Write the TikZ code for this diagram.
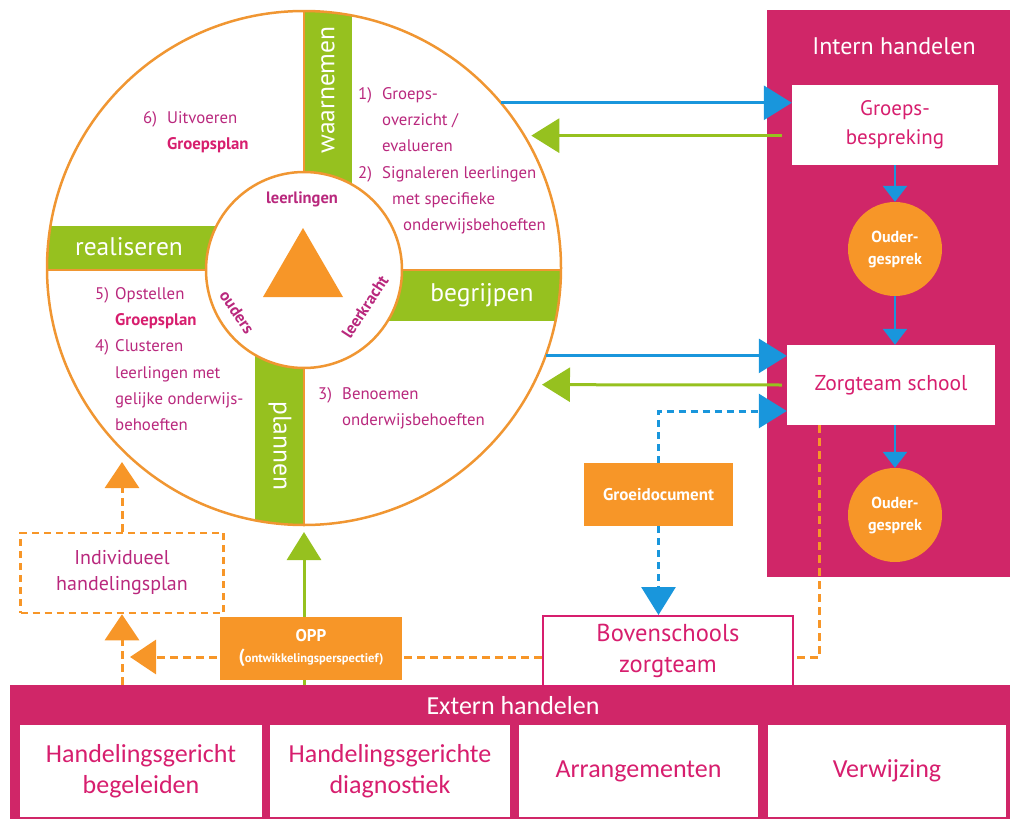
\documentclass[tikz,border=0pt]{standalone}
\usepackage{fontspec}
\setmainfont{PT Sans}
\newfontfamily\calibfont{Carlito}
\usetikzlibrary{arrows.meta,positioning,calc}

\definecolor{wheelorange}{RGB}{240,150,50}
\definecolor{fillorange}{RGB}{247,150,40}
\definecolor{leafgreen}{RGB}{150,193,31}
\definecolor{panelmag}{RGB}{208,38,104}
\definecolor{textmag}{RGB}{185,40,125}
\definecolor{boxmag}{RGB}{215,30,110}
\definecolor{arrowblue}{RGB}{25,150,220}

\newcommand{\stepnum}[2][24pt]{\makebox[#1][l]{#2}}

\tikzset{
  wheeltext/.style={text=textmag, font=\fontsize{16.8}{26.3}\selectfont, align=left, anchor=north west, inner sep=0pt},
  barlabel/.style={text=white, font=\fontsize{25.5}{28}\selectfont, inner sep=0pt},
  hublabel/.style={text=textmag, font=\bfseries\fontsize{16.5}{18}\selectfont, inner sep=0pt},
  bluearrow/.style={draw=arrowblue, line width=3pt, -{Triangle[width=34pt,length=28pt]}},
  greenarrow/.style={draw=leafgreen, line width=3pt, -{Triangle[width=34pt,length=28pt]}},
  bluedash/.style={bluearrow, dash pattern=on 7pt off 5pt},
  orangedash/.style={draw=fillorange, line width=3pt, dash pattern=on 8pt off 5pt},
  orangetip/.style={orangedash, -{Triangle[width=34pt,length=26pt]}},
  smallblue/.style={draw=arrowblue, line width=2.5pt, -{Triangle[width=24pt,length=16pt]}},
  whitebox/.style={fill=white, text=boxmag, align=center, inner sep=0pt},
  orangebox/.style={fill=fillorange, text=white, font=\bfseries\fontsize{17}{20}\selectfont, align=center, inner sep=0pt},
  ouderbol/.style={circle, fill=fillorange, text=white, minimum size=94pt, inner sep=0pt, font=\bfseries\fontsize{16}{22}\selectfont, align=center},
  externbox/.style={fill=white, text=boxmag, align=center, inner sep=0pt, minimum height=92pt, font=\calibfont\fontsize{26}{31}\selectfont},
}

\begin{document}
\begin{tikzpicture}[x=1pt, y=-1pt]
\useasboundingbox (0,0) rectangle (1010,819);

% Wheel: green bars, cross lines, hub
\begin{scope}
  \clip (304,268) circle (257pt);
  \fill[leafgreen] (304,0) rectangle (352,270);
  \fill[leafgreen] (0,226) rectangle (304,270);
  \fill[leafgreen] (304,270) rectangle (600,321);
  \fill[leafgreen] (255,270) rectangle (304,600);
  \draw[wheelorange, line width=2pt] (304,0) -- (304,600);
  \draw[wheelorange, line width=2pt] (0,270) -- (600,270);
\end{scope}
\node[circle, draw=wheelorange, line width=2.5pt, minimum size=514pt, inner sep=0pt, outer sep=0pt] (wheel) at (304,268) {};
\node[circle, draw=wheelorange, fill=white, line width=2.5pt, minimum size=196pt, inner sep=0pt] (hub) at (304,270) {};
\fill[fillorange] (303,228) -- (263,297) -- (343,297) -- cycle;

\node[hublabel] (lln) at (302,199) {leerlingen};
\node[hublabel, rotate=-56] (ouders) at (237,312) {ouders};
\node[hublabel, rotate=57] (leerkr) at (365,307) {leerkracht};

\node[barlabel, rotate=90] (waar) at (328,90) {waarnemen};
\node[barlabel] (real) at (129,247) {realiseren};
\node[barlabel] (begr) at (482,295) {begrijpen};
\node[barlabel, rotate=-90] (plan) at (280,446) {plannen};

% Steps in the wheel
\node[wheeltext] (stap12) at (358,87) {\stepnum{1)}Groeps-\\
  \hspace*{24pt}overzicht /\\
  \hspace*{24pt}evalueren\\
  \stepnum{2)}Signaleren leerlingen\\
  \hspace*{34pt}met specifieke\\
  \hspace*{45pt}onderwijsbehoeften};
\node[wheeltext] (stap6) at (143,111) {\stepnum{6)}Uitvoeren\\
  \hspace*{24pt}\textcolor{boxmag}{\bfseries Groepsplan}};
\node[wheeltext] (stap54) at (95,287) {\stepnum[20pt]{5)}Opstellen\\
  \hspace*{20pt}\textcolor{boxmag}{\bfseries Groepsplan}\\
  \stepnum[20pt]{4)}Clusteren\\
  \hspace*{20pt}leerlingen met\\
  \hspace*{20pt}gelijke onderwijs-\\
  \hspace*{20pt}behoeften};
\node[wheeltext] (stap3) at (318,387) {\stepnum{3)}Benoemen\\
  \hspace*{24pt}onderwijsbehoeften};

% Intern handelen
\node[fill=panelmag, minimum width=243pt, minimum height=567pt, inner sep=0pt] (intern) at (888.5,293.5) {};
\node[text=white, font=\fontsize{24}{26}\selectfont] (interntitel) at (894,46) {Intern handelen};
\node[whitebox, minimum width=206pt, minimum height=80pt, font=\fontsize{21}{29}\selectfont] (grp) at (895,125) {Groeps-\\bespreking};
\node[ouderbol] (ouder1) at (895,249) {Ouder-\\gesprek};
\node[whitebox, minimum width=208pt, minimum height=80pt, font=\fontsize{21.5}{26}\selectfont] (zorg) at (891,385) {Zorgteam school};
\node[ouderbol] (ouder2) at (895,515) {Ouder-\\gesprek};
\draw[smallblue] (grp.south) -- (ouder1.north);
\draw[smallblue] (ouder1.south) -- (ouder1.south |- zorg.north);
\draw[smallblue] (ouder2.north |- zorg.south) -- (ouder2.north);

% Extern handelen
\node[fill=panelmag, minimum width=1000pt, minimum height=134pt, inner sep=0pt, anchor=north west] (extern) at (10,685) {};
\node[text=white, font=\calibfont\fontsize{26}{28}\selectfont] (externtitel) at (513,706) {Extern handelen};
\node[externbox, minimum width=242pt] (hgb) at (141,771) {Handelingsgericht\\begeleiden};
\node[externbox, minimum width=240pt] (hgd) at (390,771) {Handelingsgerichte\\diagnostiek};
\node[externbox, minimum width=239pt] (arr) at (638.5,771) {Arrangementen};
\node[externbox, minimum width=238pt] (verw) at (887,771) {Verwijzing};

% Boxes between
\node[orangebox, minimum width=149pt, minimum height=63pt] (groei) at (658.5,494.5) {Groeidocument};
\node[whitebox, draw=boxmag, line width=2pt, minimum width=250pt, minimum height=70pt, font=\fontsize{24.5}{31}\selectfont] (boven) at (668,651) {Bovenschools\\zorgteam};
\node[draw=fillorange, line width=2.5pt, dash pattern=on 7pt off 5pt, text=textmag, minimum width=203pt, minimum height=80pt, align=center, font=\fontsize{20}{26}\selectfont] (ihp) at (122,573) {Individueel\\handelingsplan};

% Connections wheel <-> intern
\draw[bluearrow] (wheel.40) -- (wheel.40 -| grp.west);
\draw[greenarrow] ($(grp.west |- wheel.31)+(-10,0)$) -- ($(wheel.31)+(7,0)$);
\draw[bluearrow] (wheel.-20) -- (wheel.-20 -| zorg.west);
\draw[greenarrow] ($(zorg.west)+(-5,0)$) -- ($(wheel.-27)+(9,0)$);
\draw[bluedash] (groei.north) |- ($(zorg.west)+(0,26)$);
\draw[bluedash] (groei.south) -- (groei.south |- boven.north);

% Connections below
\coordinate (ihp-up) at (122,462);
\draw[orangedash] ($(zorg.south west)+(33,0)$) |- ($(boven.east)+(0,6)$);
\draw[orangetip] ($(boven.west)+(0,6)$) -- ($(ihp.south |- boven.west)+(8,6)$);
\draw[orangetip] (ihp.south |- extern.north) -- (ihp.south);
\draw[orangetip] (ihp.north) -- (ihp-up);
\draw[greenarrow] (wheel.south |- extern.north) -- ($(wheel.south)+(0,7)$);
\node[orangebox, minimum width=182pt, minimum height=63pt] (opp) at (311,648.5) {OPP\\[1pt]{\fontsize{19}{19}\selectfont(}{\fontsize{12.5}{14}\selectfont ontwikkelingsperspectief)}};

\end{tikzpicture}
\end{document}
